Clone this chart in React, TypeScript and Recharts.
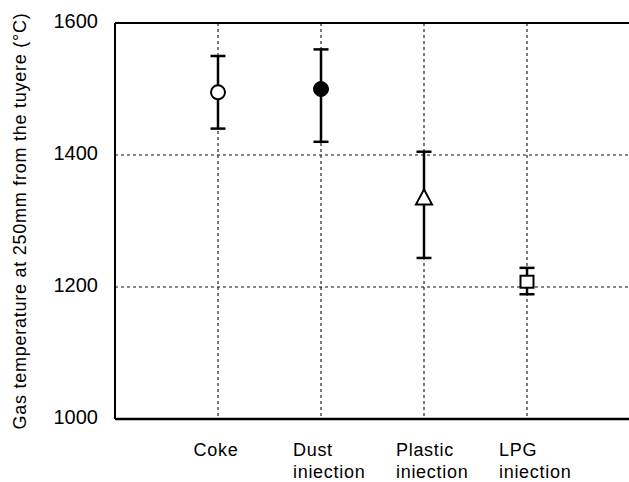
import React from 'react';
import { ComposedChart, Scatter, ErrorBar, XAxis, YAxis, CartesianGrid, ReferenceLine } from 'recharts';

const CATEGORIES = ['Coke', 'Dust\niniection', 'Plastic\niniection', 'LPG\niniection'];
const MEANS = [1495, 1500, 1335, 1208];
const UPPER = [1550, 1560, 1405, 1229];
const LOWER = [1440, 1420, 1244, 1189];
const Y_TICKS = [1000, 1200, 1400, 1600];

const data = CATEGORIES.map((name, i) => ({
  x: i + 1,
  y: MEANS[i],
  err: [MEANS[i] - LOWER[i], UPPER[i] - MEANS[i]],
  idx: i,
}));

const FONT = '"Liberation Sans", Arial, sans-serif';

function Marker(props: any) {
  const { cx, cy, payload } = props;
  if (cx == null || cy == null) return null;
  switch (payload.idx) {
    case 0:
      return <circle cx={cx} cy={cy} r={7} fill="#fff" stroke="#000" strokeWidth={2} />;
    case 1:
      return <circle cx={cx} cy={cy} r={7.5} fill="#000" stroke="#000" strokeWidth={1} />;
    case 2:
      return (
        <polygon
          points={`${cx},${cy - 8.5} ${cx - 8},${cy + 6.5} ${cx + 8},${cy + 6.5}`}
          fill="#fff"
          stroke="#000"
          strokeWidth={2}
        />
      );
    default:
      return <rect x={cx - 6.5} y={cy - 6} width={13} height={12} fill="#fff" stroke="#000" strokeWidth={2} />;
  }
}

function CatTick(props: any) {
  const { x, y, payload } = props;
  const lines = CATEGORIES[payload.value - 1]?.split('\n') ?? [];
  const single = lines.length === 1;
  const tx = single ? x - 2 : x - 28;
  return (
    <text
      x={tx}
      y={y + 37}
      textAnchor={single ? 'middle' : 'start'}
      fontFamily={FONT}
      fontSize={18}
      letterSpacing={0.7}
      fill="#000"
    >
      {lines.map((l, i) => (
        <tspan key={i} x={tx} dy={i === 0 ? 0 : 22}>
          {l}
        </tspan>
      ))}
    </text>
  );
}

function ValTick(props: any) {
  const { x, y, payload } = props;
  return (
    <text x={x} y={y} dy={5} textAnchor="end" fontFamily={FONT} fontSize={20} fill="#000">
      {payload.value}
    </text>
  );
}

function YLabel() {
  return (
    <text
      transform="translate(26, 221) rotate(-90)"
      textAnchor="middle"
      fontFamily={FONT}
      fontSize={18}
      letterSpacing={0.75}
      fill="#000"
    >
      Gas temperature at 250mm from the tuyere  (°C)
    </text>
  );
}

export default function App() {
  return (
    <div style={{ position: 'absolute', left: 0, top: 0, width: 629, height: 482, overflow: 'hidden', background: '#fff' }}>
      <ComposedChart width={640} height={482} data={data} margin={{ top: 23, right: 10, left: 0, bottom: 0 }}>
        <CartesianGrid stroke="#111" strokeDasharray="3 3" strokeWidth={1.1} />
        <XAxis
          type="number"
          dataKey="x"
          domain={[0, 5]}
          ticks={[1, 2, 3, 4]}
          interval={0}
          height={63}
          axisLine={{ stroke: '#000', strokeWidth: 2.5 }}
          tickLine={false}
          tickSize={0}
          tickMargin={0}
          tick={<CatTick />}
        />
        <YAxis
          type="number"
          dataKey="y"
          domain={[1000, 1600]}
          ticks={Y_TICKS}
          interval={0}
          width={115}
          axisLine={{ stroke: '#000', strokeWidth: 2 }}
          tickLine={false}
          tickSize={8}
          tickMargin={9}
          tick={<ValTick />}
          label={<YLabel />}
        />
        <ReferenceLine y={1600} stroke="#000" strokeWidth={2} />
        <Scatter dataKey="y" isAnimationActive={false} shape={<Marker />}>
          <ErrorBar dataKey="err" direction="y" width={7.5} stroke="#000" strokeWidth={2.5} />
        </Scatter>
      </ComposedChart>
    </div>
  );
}
